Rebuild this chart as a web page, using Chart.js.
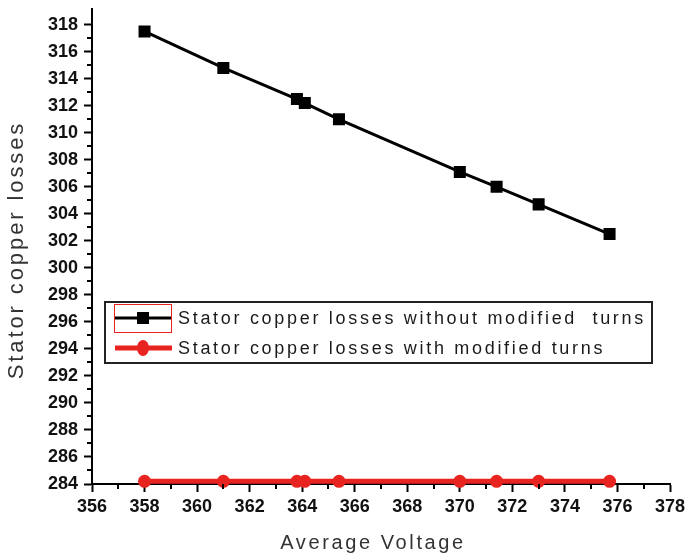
<!DOCTYPE html>
<html>
<head>
<meta charset="utf-8">
<script src="https://cdn.jsdelivr.net/npm/chart.js@4.4.1/dist/chart.umd.min.js"></script>
<style>
  html, body { margin: 0; padding: 0; background: #fff; }
  #wrap { width: 688px; height: 559px; position: relative; }
</style>
</head>
<body>
<div id="wrap"><canvas id="grafik"></canvas></div>
<script>
const voltage = [358, 361, 363.8, 364.1, 365.4, 370, 371.4, 373, 375.7];
const lossesWithout = [317.5, 314.8, 312.5, 312.2, 311.0, 307.1, 306.0, 304.7, 302.5];
const lossesWith = [284.2, 284.2, 284.2, 284.2, 284.2, 284.2, 284.2, 284.2, 284.2];
const labelWithout = 'Stator copper losses without modified  turns';
const labelWith = 'Stator copper losses with modified turns';
const xTitle = 'Average Voltage';
const yTitle = 'Stator copper losses';

const merah = 'rgb(232,36,32)';

function toPoints(xs, ys) {
  return xs.map((x, i) => ({ x: x, y: ys[i] }));
}

// minor ticks on both axes (odd values), major ones come from the scales
const minorTicks = {
  id: 'minorTicks',
  afterDraw(chart) {
    const ctx = chart.ctx;
    const xs = chart.scales.x;
    const ys = chart.scales.y;
    ctx.save();
    ctx.strokeStyle = '#000';
    ctx.lineWidth = 2;
    for (let v = 357; v < 378; v += 2) {
      const px = Math.round(xs.getPixelForValue(v));
      ctx.beginPath();
      ctx.moveTo(px, ys.bottom);
      ctx.lineTo(px, ys.bottom + 5);
      ctx.stroke();
    }
    for (let v = 285; v < 319; v += 2) {
      const py = Math.round(ys.getPixelForValue(v));
      ctx.beginPath();
      ctx.moveTo(xs.left - 5, py);
      ctx.lineTo(xs.left, py);
      ctx.stroke();
    }
    ctx.restore();
  }
};

// axis titles, spaced out like the original plot
const judulSumbu = {
  id: 'judulSumbu',
  afterDraw(chart) {
    const ctx = chart.ctx;
    const area = chart.chartArea;
    ctx.save();
    ctx.fillStyle = '#333';
    ctx.font = '20px "Liberation Sans", Arial, sans-serif';
    ctx.letterSpacing = '2.6px';
    ctx.textAlign = 'center';
    ctx.textBaseline = 'alphabetic';
    ctx.fillText(xTitle, (area.left + area.right) / 2 - 8, 549);

    ctx.font = '22px "Liberation Sans", Arial, sans-serif';
    ctx.letterSpacing = '2.9px';
    ctx.translate(23, 250);
    ctx.rotate(-Math.PI / 2);
    ctx.fillText(yTitle, 0, 0);
    ctx.restore();
  }
};

// legend box inside the plot area
const legendaDalam = {
  id: 'legendaDalam',
  afterDraw(chart) {
    const ctx = chart.ctx;
    const a = chart.chartArea;
    const left = a.left + 13, top = 302, right = 652, bottom = 363;
    ctx.save();
    ctx.fillStyle = '#fff';
    ctx.fillRect(left, top, right - left, bottom - top);
    ctx.strokeStyle = '#222';
    ctx.lineWidth = 2;
    ctx.strokeRect(left, top, right - left, bottom - top);

    const rows = [318, 348];
    chart.data.datasets.forEach((ds, i) => {
      const y = rows[i];
      ctx.strokeStyle = ds.borderColor;
      ctx.lineWidth = ds.borderWidth;
      ctx.beginPath();
      ctx.moveTo(left + 10, y);
      ctx.lineTo(left + 67, y);
      ctx.stroke();
      ctx.fillStyle = ds.pointBackgroundColor;
      if (ds.pointStyle === 'rect') {
        ctx.fillRect(left + 32, y - 6, 12, 12);
      } else {
        ctx.beginPath();
        ctx.ellipse(left + 38, y, 6, 8, 0, 0, Math.PI * 2);
        ctx.fill();
      }
      ctx.fillStyle = '#1a1a1a';
      ctx.font = '18px "Liberation Sans", Arial, sans-serif';
      ctx.letterSpacing = '2.7px';
      ctx.textAlign = 'left';
      ctx.textBaseline = 'middle';
      ctx.fillText(ds.label, left + 73, y + 1);
    });
    // red outline around the first sample
    ctx.strokeStyle = merah;
    ctx.lineWidth = 1;
    ctx.strokeRect(left + 9.5, 304.5, 57, 28);
    ctx.restore();
  }
};

const ctx = document.getElementById('grafik').getContext('2d');

const chart = new Chart(ctx, {
  type: 'line',
  data: {
    datasets: [{
      label: labelWithout,
      data: toPoints(voltage, lossesWithout),
      borderColor: '#000',
      backgroundColor: '#000',
      pointBackgroundColor: '#000',
      pointBorderColor: '#000',
      borderWidth: 3,
      pointStyle: 'rect',
      pointRadius: 8.5,
      pointBorderWidth: 0,
      tension: 0,
      order: 2
    }, {
      label: labelWith,
      data: toPoints(voltage, lossesWith),
      borderColor: merah,
      backgroundColor: merah,
      pointBackgroundColor: merah,
      pointBorderColor: merah,
      borderWidth: 5,
      pointStyle: 'circle',
      pointRadius: 6.5,
      pointBorderWidth: 0,
      tension: 0,
      clip: 6,
      order: 1
    }]
  },
  options: {
    responsive: true,
    maintainAspectRatio: false,
    animation: false,
    layout: { padding: { top: 5, right: 18, left: 0, bottom: 0 } },
    plugins: {
      legend: { display: false },
      tooltip: { enabled: false }
    },
    scales: {
      x: {
        type: 'linear',
        min: 356,
        max: 378,
        afterFit(scale) {
          scale.height = 75;
          scale.paddingLeft = 0;
          scale.paddingRight = 0;
        },
        ticks: {
          stepSize: 2,
          padding: 4,
          color: '#111',
          font: { family: '"Liberation Sans", Arial, sans-serif', size: 18, weight: 'bold' },
          maxRotation: 0
        },
        grid: { drawOnChartArea: false, tickLength: 8, tickColor: '#000', tickWidth: 2 },
        border: { color: '#000', width: 2 }
      },
      y: {
        type: 'linear',
        min: 284,
        max: 319.2,
        afterFit(scale) {
          scale.width = 92;
          scale.paddingTop = 0;
          scale.paddingBottom = 0;
        },
        ticks: {
          stepSize: 2,
          includeBounds: false,
          padding: 6,
          color: '#111',
          font: { family: '"Liberation Sans", Arial, sans-serif', size: 18, weight: 'bold' }
        },
        grid: { drawOnChartArea: false, tickLength: 8, tickColor: '#000', tickWidth: 2 },
        border: { color: '#000', width: 2 }
      }
    }
  },
  plugins: [minorTicks, judulSumbu, legendaDalam]
});
</script>
</body>
</html>
